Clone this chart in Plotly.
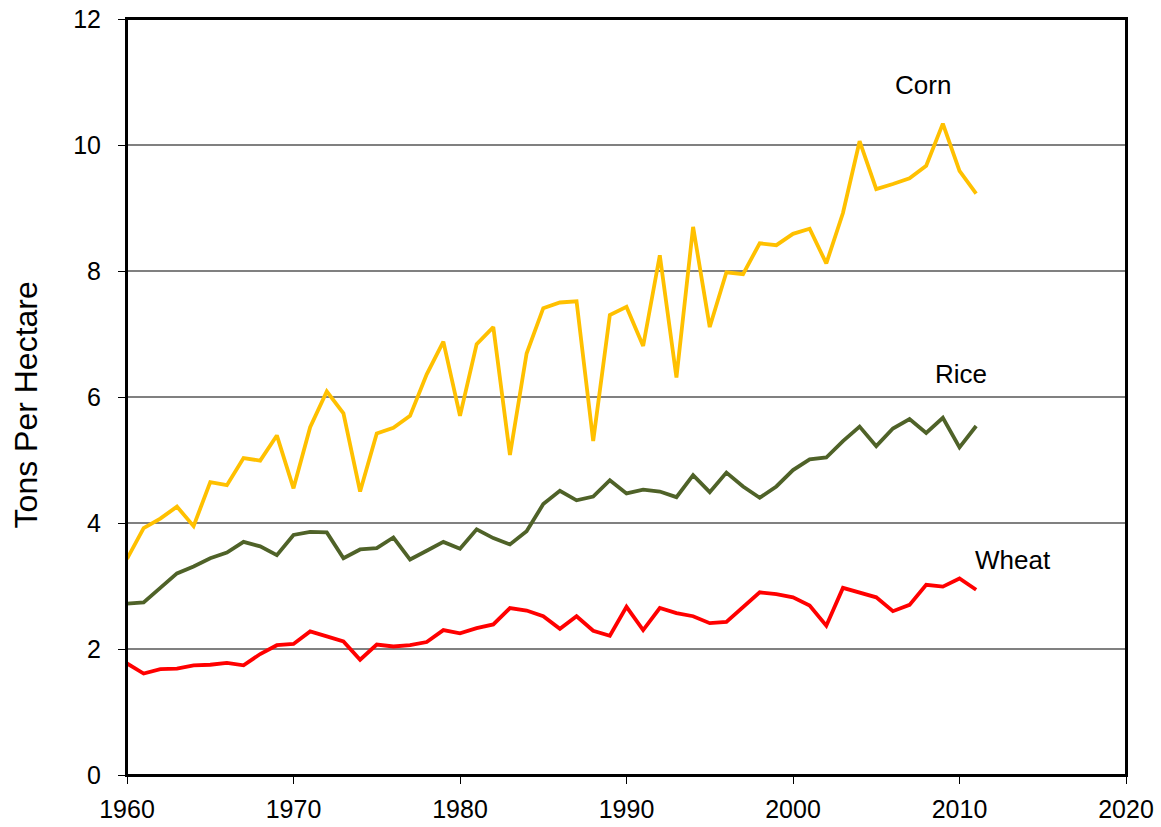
import plotly.graph_objects as go

years = list(range(1960, 2012))
corn = [3.43, 3.92, 4.07, 4.26, 3.95, 4.65, 4.60, 5.03, 4.99, 5.39,
        4.55, 5.52, 6.09, 5.74, 4.50, 5.42, 5.51, 5.70, 6.36, 6.88,
        5.70, 6.84, 7.11, 5.08, 6.69, 7.41, 7.50, 7.52, 5.30, 7.30,
        7.43, 6.81, 8.25, 6.31, 8.70, 7.11, 7.98, 7.95, 8.44, 8.41,
        8.59, 8.67, 8.12, 8.92, 10.06, 9.30, 9.38, 9.47, 9.67, 10.34,
        9.59, 9.23]
rice = [2.72, 2.74, 2.97, 3.20, 3.31, 3.44, 3.53, 3.70, 3.63, 3.49,
        3.81, 3.86, 3.85, 3.44, 3.58, 3.60, 3.77, 3.42, 3.56, 3.70,
        3.59, 3.90, 3.76, 3.66, 3.87, 4.30, 4.51, 4.36, 4.42, 4.68,
        4.47, 4.53, 4.50, 4.41, 4.76, 4.49, 4.80, 4.58, 4.40, 4.58,
        4.84, 5.01, 5.04, 5.30, 5.53, 5.22, 5.50, 5.65, 5.43, 5.67,
        5.20, 5.54]
wheat = [1.77, 1.61, 1.68, 1.69, 1.74, 1.75, 1.78, 1.74, 1.92, 2.06,
         2.08, 2.28, 2.20, 2.12, 1.83, 2.07, 2.04, 2.06, 2.11, 2.30,
         2.25, 2.33, 2.39, 2.65, 2.61, 2.52, 2.32, 2.52, 2.29, 2.21,
         2.67, 2.30, 2.65, 2.57, 2.52, 2.41, 2.43, 2.67, 2.90, 2.87,
         2.82, 2.69, 2.37, 2.97, 2.90, 2.82, 2.60, 2.70, 3.02, 2.99,
         3.12, 2.94]

series_names = ["Corn", "Rice", "Wheat"]
series_values = [corn, rice, wheat]
series_colors = ["#FFC000", "#4F6228", "#FF0000"]
label_pos = [(2007.8, 10.96), (2010.1, 6.36), (2013.2, 3.41)]

x_ticks = [1960, 1970, 1980, 1990, 2000, 2010, 2020]
y_ticks = [0, 2, 4, 6, 8, 10, 12]

font_family = "Liberation Sans, Arial, sans-serif"

fig = go.Figure()
for name, vals, col in zip(series_names, series_values, series_colors):
    fig.add_trace(go.Scatter(x=years, y=vals, mode="lines", name=name,
                             line=dict(color=col, width=3.8),
                             showlegend=False))

for name, (lx, ly) in zip(series_names, label_pos):
    fig.add_annotation(x=lx, y=ly, text=name, showarrow=False,
                       xref="x", yref="y",
                       font=dict(family=font_family, size=26, color="black"))

fig.add_annotation(x=-0.101, y=0.489, xref="paper", yref="paper",
                   text="Tons Per Hectare", textangle=-90, showarrow=False,
                   xanchor="center", yanchor="middle",
                   font=dict(family=font_family, size=32, color="black"))

# plot frame
fig.add_shape(type="rect", xref="paper", yref="paper", x0=0, y0=0, x1=1, y1=1,
              line=dict(color="black", width=2), layer="above")

fig.update_xaxes(range=[1960, 2020], tickvals=x_ticks,
                 ticktext=[str(t) for t in x_ticks],
                 showgrid=False, zeroline=False,
                 showline=True, linecolor="black", linewidth=2, mirror=True,
                 ticks="outside", ticklen=7, tickcolor="black", tickwidth=1,
                 ticklabelstandoff=4, ticklabeloverflow="allow",
                 tickfont=dict(family=font_family, size=25, color="black"))
fig.update_yaxes(range=[0, 12], tickvals=y_ticks,
                 showgrid=True, gridcolor="#808080", gridwidth=1.6,
                 zeroline=False,
                 showline=True, linecolor="black", linewidth=2, mirror=True,
                 ticks="outside", ticklen=7, tickcolor="black", tickwidth=1,
                 ticklabelstandoff=12, ticklabeloverflow="allow",
                 tickfont=dict(family=font_family, size=25, color="black"))

fig.update_layout(width=1161, height=827,
                  margin=dict(l=127, r=35, t=19, b=52, autoexpand=False),
                  plot_bgcolor="white", paper_bgcolor="white")

fig.write_html("out.html",
               config={"displayModeBar": False, "staticPlot": True},
               post_script="document.body.style.margin='0';"
                           "document.body.style.overflow='hidden';")
